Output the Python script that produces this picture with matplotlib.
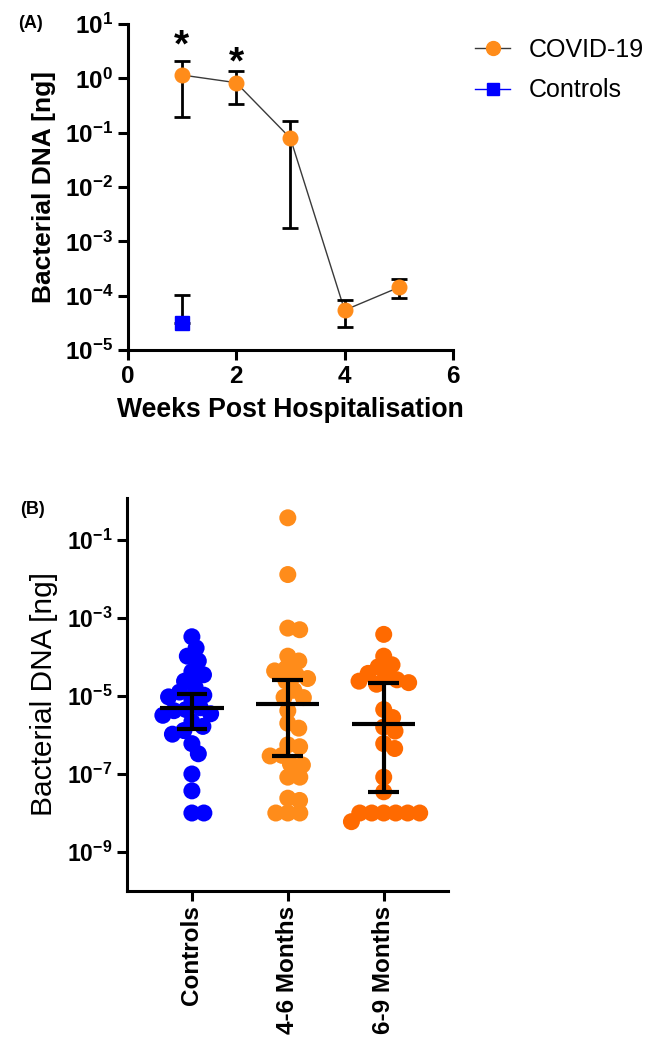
import numpy as np
import matplotlib
matplotlib.use("Agg")
import matplotlib.pyplot as plt
from matplotlib.ticker import FixedLocator, FuncFormatter, NullLocator
from matplotlib.lines import Line2D

# ---------------- datos ----------------
# (A) semanas post hospitalizacion
weeks = [1, 2, 3, 4, 5]
covid_mean = [1.15, 0.83, 0.079, 5.4e-5, 1.42e-4]
covid_upper = [2.1, 1.36, 0.164, 8.5e-5, 2.0e-4]
covid_lower = [0.196, 0.33, 0.00173, 2.67e-5, 8.9e-5]
ctrl_week = [1]
ctrl_mean = [3.2e-5]
ctrl_upper = [1.03e-4]
star_weeks = [1, 2]

# (B) grupos
groups = ["Controls", "4-6 Months", "6-9 Months"]
controls = [3.3e-4, 1.7e-4, 1.05e-4, 7.9e-5, 4.2e-5, 3.5e-5, 2.4e-5, 1.7e-5,
            1.26e-5, 1.05e-5, 9.5e-6, 8.3e-6, 5.0e-6, 4.5e-6, 4.2e-6, 3.5e-6,
            3.2e-6, 2.2e-6, 1.66e-6, 1.3e-6, 1.05e-6, 6.0e-7, 3.3e-7, 1.0e-7,
            3.7e-8, 1.0e-8, 1.0e-8]
m46 = [3.7e-1, 1.3e-2, 5.0e-4, 5.5e-4, 1.05e-4, 7.9e-5, 5.2e-5, 4.4e-5, 3.5e-5,
       2.8e-5, 2.4e-5, 1.4e-5, 9.3e-6, 9.1e-6, 4.2e-6, 2.0e-6, 1.5e-6, 5.6e-7,
       5.0e-7, 3.0e-7, 2.9e-7, 1.8e-7, 1.7e-7, 8.3e-8, 8.3e-8, 2.4e-8, 2.1e-8,
       1e-8, 1e-8, 1e-8]
m69 = [3.8e-4, 1.05e-4, 5.6e-5, 6.3e-5, 3.8e-5, 3.2e-5, 2.6e-5, 2.4e-5, 2.2e-5,
       2.0e-5, 4.5e-6, 2.8e-6, 1.6e-6, 1.26e-6, 6.0e-7, 4.5e-7, 8.3e-8, 3.5e-8,
       1e-8, 1e-8, 1e-8, 1e-8, 1e-8, 1e-8, 6.0e-9]
medians = [5.0e-6, 6.2e-6, 1.95e-6]
q1 = [1.4e-6, 2.95e-7, 3.5e-8]
q3 = [1.1e-5, 2.5e-5, 2.2e-5]

c_orange = "#FF8C1A"
c_red = "#FF6A00"
c_blue = "#0000FF"
colores = [c_blue, c_orange, c_red]

plt.rcParams['font.family'] = 'Liberation Sans'
plt.rcParams['mathtext.fontset'] = 'custom'
plt.rcParams['mathtext.rm'] = 'Liberation Sans:bold'
plt.rcParams['mathtext.bf'] = 'Liberation Sans:bold'
plt.rcParams['mathtext.it'] = 'Liberation Sans:bold:italic'

def potencia(v, pos):
    return r'$\mathrm{10^{%d}}$' % int(round(np.log10(v)))

def swarm(vals, d=12.0, ppd=39.0):
    y = np.log10(np.array(vals)) * ppd
    xs = np.zeros(len(y))
    placed = []
    for i in np.argsort(-y):
        cands = [0.0]
        for xj, yj in placed:
            dy = y[i] - yj
            if abs(dy) < d:
                dx = np.sqrt(d * d - dy * dy)
                cands += [xj + dx, xj - dx]
        cands.sort(key=abs)
        for c in cands:
            if all((c - xj) ** 2 + (y[i] - yj) ** 2 >= d * d - 1e-6 for xj, yj in placed):
                xs[i] = c
                break
        placed.append((xs[i], y[i]))
    return xs

fig = plt.figure(figsize=(6.56, 10.42), dpi=100)

# ================= (A) =================
ax = fig.add_axes([0.1947, 0.6641, 0.4959, 0.3129])
ax.set_yscale('log')
ax.plot(weeks, covid_mean, '-', color='#3a3a3a', lw=1.0, zorder=2)
yerr = [np.array(covid_mean) - np.array(covid_lower), np.array(covid_upper) - np.array(covid_mean)]
ax.errorbar(weeks, covid_mean, yerr=yerr, fmt='none', ecolor='black', elinewidth=2.0,
            capsize=5.8, capthick=2.0, zorder=3)
ax.plot(weeks, covid_mean, 'o', color=c_orange, ms=10.5, zorder=4)
ax.errorbar(ctrl_week, ctrl_mean, yerr=[[0], np.array(ctrl_upper) - np.array(ctrl_mean)],
            fmt='none', ecolor='black', elinewidth=2.0, capsize=5.8, capthick=2.0, zorder=3)
ax.plot(ctrl_week, ctrl_mean, 's', color=c_blue, ms=9.5, zorder=4)
star_y = [3.9, 1.9]
for w, sy in zip(star_weeks, star_y):
    ax.text(w, sy, '*', ha='center', va='center', fontsize=28, fontweight='bold')

ax.set_xlim(0, 6)
ax.set_ylim(1e-5, 1e1)
ax.xaxis.set_major_locator(FixedLocator([0, 2, 4, 6]))
ax.yaxis.set_major_locator(FixedLocator([1e-5, 1e-4, 1e-3, 1e-2, 1e-1, 1e0, 1e1]))
ax.yaxis.set_minor_locator(NullLocator())
ax.yaxis.set_major_formatter(FuncFormatter(potencia))
for s in ['top', 'right']:
    ax.spines[s].set_visible(False)
for s in ['left', 'bottom']:
    ax.spines[s].set_linewidth(2.2)
ax.tick_params(width=2.2, length=7, labelsize=17.5)
for t in ax.get_xticklabels():
    t.set_fontweight('bold')
ax.set_ylabel('Bacterial DNA [ng]', fontsize=19, fontweight='bold', labelpad=6)
ax.set_xlabel('Weeks Post Hospitalisation', fontsize=19.2, fontweight='bold', labelpad=7)
fig.text(0.046, 0.977, '(A)', fontsize=13, fontweight='bold', ha='center', va='center')

handles = [Line2D([], [], color='#3a3a3a', lw=1.0, marker='o', ms=10, mfc=c_orange, mec=c_orange),
           Line2D([], [], color=c_blue, lw=1.0, marker='s', ms=9, mfc=c_blue, mec=c_blue)]
fig.legend(handles, ['COVID-19', 'Controls'], loc='upper left', bbox_to_anchor=(0.69, 0.985),
           frameon=False, fontsize=18, handlelength=1.4, handletextpad=0.75, labelspacing=0.65)

# ================= (B) =================
bx = fig.add_axes([0.1931, 0.1449, 0.4898, 0.3772])
bx.set_yscale('log')
for k, vals in enumerate([controls, m46, m69]):
    off = swarm(vals) / 96.0
    bx.scatter(k + off, vals, s=150, color=colores[k], edgecolors='none', zorder=2)
bx.hlines(medians, np.arange(3) - 0.33, np.arange(3) + 0.33, color='black', lw=3.0, zorder=3)
bx.vlines(np.arange(3), q1, q3, color='black', lw=3.0, zorder=3)
bx.hlines(q1, np.arange(3) - 0.16, np.arange(3) + 0.16, color='black', lw=3.0, zorder=3)
bx.hlines(q3, np.arange(3) - 0.16, np.arange(3) + 0.16, color='black', lw=3.0, zorder=3)

bx.set_xlim(-0.68, 2.67)
bx.set_ylim(1e-10, 10 ** 0.077)
bx.set_xticks(range(3))
bx.set_xticklabels(groups, rotation=90, fontsize=17.5, fontweight='bold')
bx.yaxis.set_major_locator(FixedLocator([1e-9, 1e-7, 1e-5, 1e-3, 1e-1]))
bx.yaxis.set_minor_locator(NullLocator())
bx.yaxis.set_major_formatter(FuncFormatter(potencia))
for s in ['top', 'right']:
    bx.spines[s].set_visible(False)
for s in ['left', 'bottom']:
    bx.spines[s].set_linewidth(2.2)
bx.tick_params(axis='y', width=2.2, length=7, labelsize=16.5)
bx.tick_params(axis='x', width=2.2, length=7)
bx.set_ylabel('Bacterial DNA [ng]', fontsize=21.5, labelpad=6)
fig.text(0.049, 0.511, '(B)', fontsize=13, fontweight='bold', ha='center', va='center')

fig.savefig('out.png', dpi=100)
